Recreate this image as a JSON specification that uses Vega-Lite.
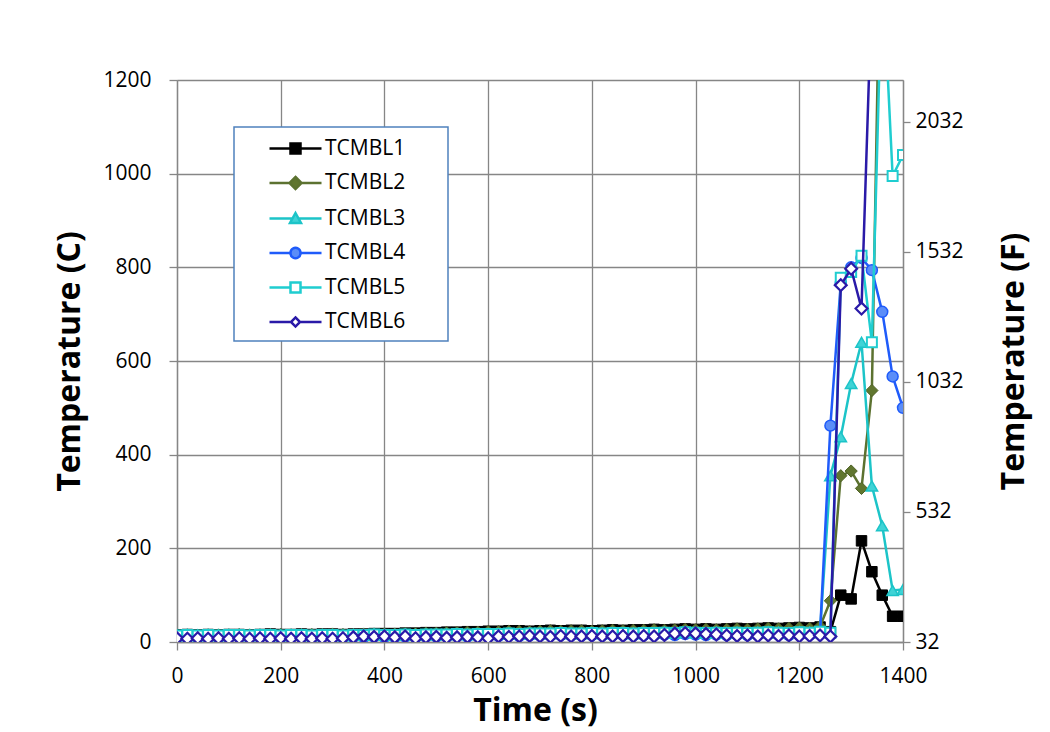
{
  "$schema": "https://vega.github.io/schema/vega-lite/v6.json",
  "width": 726,
  "height": 562,
  "autosize": {"type": "none"},
  "padding": {"left": 177, "top": 80, "right": 147, "bottom": 90},
  "background": "white",
  "data": {"values": [
    {"t":0,"TCMBL1":15,"TCMBL2":14,"TCMBL3":15,"TCMBL4":10,"TCMBL5":14,"TCMBL6":8},
    {"t":20,"TCMBL1":16,"TCMBL2":15,"TCMBL3":16,"TCMBL4":11,"TCMBL5":15,"TCMBL6":7},
    {"t":40,"TCMBL1":15,"TCMBL2":14,"TCMBL3":15,"TCMBL4":10,"TCMBL5":14,"TCMBL6":8},
    {"t":60,"TCMBL1":16,"TCMBL2":15,"TCMBL3":16,"TCMBL4":11,"TCMBL5":15,"TCMBL6":7},
    {"t":80,"TCMBL1":15,"TCMBL2":15,"TCMBL3":15,"TCMBL4":10,"TCMBL5":14,"TCMBL6":8},
    {"t":100,"TCMBL1":16,"TCMBL2":15,"TCMBL3":16,"TCMBL4":11,"TCMBL5":15,"TCMBL6":7},
    {"t":120,"TCMBL1":16,"TCMBL2":16,"TCMBL3":16,"TCMBL4":11,"TCMBL5":15,"TCMBL6":8},
    {"t":140,"TCMBL1":15,"TCMBL2":15,"TCMBL3":15,"TCMBL4":10,"TCMBL5":14,"TCMBL6":7},
    {"t":160,"TCMBL1":16,"TCMBL2":15,"TCMBL3":16,"TCMBL4":11,"TCMBL5":15,"TCMBL6":8},
    {"t":180,"TCMBL1":17,"TCMBL2":16,"TCMBL3":16,"TCMBL4":11,"TCMBL5":15,"TCMBL6":7},
    {"t":200,"TCMBL1":16,"TCMBL2":16,"TCMBL3":15,"TCMBL4":10,"TCMBL5":14,"TCMBL6":8},
    {"t":220,"TCMBL1":16,"TCMBL2":15,"TCMBL3":16,"TCMBL4":11,"TCMBL5":15,"TCMBL6":7},
    {"t":240,"TCMBL1":17,"TCMBL2":16,"TCMBL3":16,"TCMBL4":11,"TCMBL5":15,"TCMBL6":8},
    {"t":260,"TCMBL1":16,"TCMBL2":16,"TCMBL3":15,"TCMBL4":10,"TCMBL5":14,"TCMBL6":7},
    {"t":280,"TCMBL1":17,"TCMBL2":16,"TCMBL3":16,"TCMBL4":11,"TCMBL5":15,"TCMBL6":8},
    {"t":300,"TCMBL1":17,"TCMBL2":17,"TCMBL3":16,"TCMBL4":11,"TCMBL5":15,"TCMBL6":7},
    {"t":320,"TCMBL1":16,"TCMBL2":16,"TCMBL3":15,"TCMBL4":10,"TCMBL5":14,"TCMBL6":8},
    {"t":340,"TCMBL1":17,"TCMBL2":16,"TCMBL3":16,"TCMBL4":11,"TCMBL5":15,"TCMBL6":10},
    {"t":360,"TCMBL1":17,"TCMBL2":17,"TCMBL3":16,"TCMBL4":11,"TCMBL5":15,"TCMBL6":12},
    {"t":380,"TCMBL1":18,"TCMBL2":17,"TCMBL3":17,"TCMBL4":12,"TCMBL5":16,"TCMBL6":11},
    {"t":400,"TCMBL1":18,"TCMBL2":17,"TCMBL3":16,"TCMBL4":11,"TCMBL5":15,"TCMBL6":12},
    {"t":420,"TCMBL1":18,"TCMBL2":17,"TCMBL3":16,"TCMBL4":11,"TCMBL5":15,"TCMBL6":10},
    {"t":440,"TCMBL1":19,"TCMBL2":18,"TCMBL3":17,"TCMBL4":12,"TCMBL5":16,"TCMBL6":12},
    {"t":460,"TCMBL1":19,"TCMBL2":18,"TCMBL3":16,"TCMBL4":11,"TCMBL5":15,"TCMBL6":8},
    {"t":480,"TCMBL1":20,"TCMBL2":19,"TCMBL3":17,"TCMBL4":12,"TCMBL5":16,"TCMBL6":10},
    {"t":500,"TCMBL1":20,"TCMBL2":19,"TCMBL3":17,"TCMBL4":12,"TCMBL5":16,"TCMBL6":11},
    {"t":520,"TCMBL1":21,"TCMBL2":20,"TCMBL3":17,"TCMBL4":12,"TCMBL5":16,"TCMBL6":9},
    {"t":540,"TCMBL1":21,"TCMBL2":20,"TCMBL3":18,"TCMBL4":13,"TCMBL5":17,"TCMBL6":10},
    {"t":560,"TCMBL1":22,"TCMBL2":21,"TCMBL3":17,"TCMBL4":12,"TCMBL5":16,"TCMBL6":11},
    {"t":580,"TCMBL1":22,"TCMBL2":21,"TCMBL3":18,"TCMBL4":13,"TCMBL5":17,"TCMBL6":10},
    {"t":600,"TCMBL1":23,"TCMBL2":22,"TCMBL3":18,"TCMBL4":13,"TCMBL5":17,"TCMBL6":8},
    {"t":620,"TCMBL1":23,"TCMBL2":22,"TCMBL3":18,"TCMBL4":13,"TCMBL5":17,"TCMBL6":12},
    {"t":640,"TCMBL1":24,"TCMBL2":23,"TCMBL3":19,"TCMBL4":14,"TCMBL5":18,"TCMBL6":11},
    {"t":660,"TCMBL1":24,"TCMBL2":23,"TCMBL3":18,"TCMBL4":13,"TCMBL5":17,"TCMBL6":12},
    {"t":680,"TCMBL1":23,"TCMBL2":22,"TCMBL3":19,"TCMBL4":14,"TCMBL5":18,"TCMBL6":13},
    {"t":700,"TCMBL1":24,"TCMBL2":23,"TCMBL3":19,"TCMBL4":14,"TCMBL5":18,"TCMBL6":12},
    {"t":720,"TCMBL1":25,"TCMBL2":24,"TCMBL3":19,"TCMBL4":14,"TCMBL5":18,"TCMBL6":11},
    {"t":740,"TCMBL1":24,"TCMBL2":23,"TCMBL3":20,"TCMBL4":15,"TCMBL5":19,"TCMBL6":13},
    {"t":760,"TCMBL1":25,"TCMBL2":24,"TCMBL3":19,"TCMBL4":14,"TCMBL5":18,"TCMBL6":12},
    {"t":780,"TCMBL1":25,"TCMBL2":24,"TCMBL3":19,"TCMBL4":14,"TCMBL5":18,"TCMBL6":12},
    {"t":800,"TCMBL1":24,"TCMBL2":23,"TCMBL3":20,"TCMBL4":15,"TCMBL5":19,"TCMBL6":13},
    {"t":820,"TCMBL1":25,"TCMBL2":24,"TCMBL3":19,"TCMBL4":14,"TCMBL5":18,"TCMBL6":12},
    {"t":840,"TCMBL1":26,"TCMBL2":25,"TCMBL3":20,"TCMBL4":15,"TCMBL5":19,"TCMBL6":12},
    {"t":860,"TCMBL1":25,"TCMBL2":24,"TCMBL3":20,"TCMBL4":15,"TCMBL5":19,"TCMBL6":13},
    {"t":880,"TCMBL1":26,"TCMBL2":25,"TCMBL3":19,"TCMBL4":14,"TCMBL5":18,"TCMBL6":12},
    {"t":900,"TCMBL1":26,"TCMBL2":25,"TCMBL3":20,"TCMBL4":15,"TCMBL5":19,"TCMBL6":13},
    {"t":920,"TCMBL1":27,"TCMBL2":26,"TCMBL3":20,"TCMBL4":15,"TCMBL5":19,"TCMBL6":12},
    {"t":940,"TCMBL1":26,"TCMBL2":25,"TCMBL3":21,"TCMBL4":16,"TCMBL5":20,"TCMBL6":15},
    {"t":960,"TCMBL1":27,"TCMBL2":26,"TCMBL3":20,"TCMBL4":15,"TCMBL5":19,"TCMBL6":18},
    {"t":980,"TCMBL1":28,"TCMBL2":27,"TCMBL3":22,"TCMBL4":17,"TCMBL5":21,"TCMBL6":19},
    {"t":1000,"TCMBL1":27,"TCMBL2":26,"TCMBL3":21,"TCMBL4":16,"TCMBL5":20,"TCMBL6":18},
    {"t":1020,"TCMBL1":28,"TCMBL2":27,"TCMBL3":20,"TCMBL4":15,"TCMBL5":19,"TCMBL6":17},
    {"t":1040,"TCMBL1":27,"TCMBL2":26,"TCMBL3":21,"TCMBL4":16,"TCMBL5":20,"TCMBL6":16},
    {"t":1060,"TCMBL1":28,"TCMBL2":27,"TCMBL3":20,"TCMBL4":15,"TCMBL5":19,"TCMBL6":14},
    {"t":1080,"TCMBL1":29,"TCMBL2":28,"TCMBL3":21,"TCMBL4":16,"TCMBL5":20,"TCMBL6":13},
    {"t":1100,"TCMBL1":28,"TCMBL2":27,"TCMBL3":20,"TCMBL4":15,"TCMBL5":19,"TCMBL6":14},
    {"t":1120,"TCMBL1":29,"TCMBL2":28,"TCMBL3":21,"TCMBL4":16,"TCMBL5":20,"TCMBL6":12},
    {"t":1140,"TCMBL1":30,"TCMBL2":29,"TCMBL3":22,"TCMBL4":17,"TCMBL5":21,"TCMBL6":14},
    {"t":1160,"TCMBL1":29,"TCMBL2":28,"TCMBL3":21,"TCMBL4":16,"TCMBL5":20,"TCMBL6":13},
    {"t":1180,"TCMBL1":30,"TCMBL2":29,"TCMBL3":20,"TCMBL4":15,"TCMBL5":19,"TCMBL6":14},
    {"t":1200,"TCMBL1":31,"TCMBL2":30,"TCMBL3":22,"TCMBL4":17,"TCMBL5":21,"TCMBL6":12},
    {"t":1220,"TCMBL1":30,"TCMBL2":29,"TCMBL3":21,"TCMBL4":16,"TCMBL5":20,"TCMBL6":13},
    {"t":1240,"TCMBL1":32,"TCMBL2":33,"TCMBL3":23,"TCMBL4":18,"TCMBL5":22,"TCMBL6":14},
    {"t":1260,"TCMBL1":22,"TCMBL2":88,"TCMBL3":355,"TCMBL4":462,"TCMBL5":20,"TCMBL6":12},
    {"t":1280,"TCMBL1":100,"TCMBL2":355,"TCMBL3":438,"TCMBL4":766,"TCMBL5":778,"TCMBL6":762},
    {"t":1300,"TCMBL1":92,"TCMBL2":365,"TCMBL3":552,"TCMBL4":800,"TCMBL5":790,"TCMBL6":797},
    {"t":1320,"TCMBL1":216,"TCMBL2":328,"TCMBL3":640,"TCMBL4":820,"TCMBL5":825,"TCMBL6":712},
    {"t":1340,"TCMBL1":150,"TCMBL2":537,"TCMBL3":333,"TCMBL4":794,"TCMBL5":640,"TCMBL6":1400},
    {"t":1360,"TCMBL1":100,"TCMBL2":1760,"TCMBL3":248,"TCMBL4":705,"TCMBL5":1450,"TCMBL6":1600},
    {"t":1380,"TCMBL1":55,"TCMBL2":1900,"TCMBL3":110,"TCMBL4":567,"TCMBL5":995,"TCMBL6":1700},
    {"t":1400,"TCMBL1":55,"TCMBL2":1950,"TCMBL3":112,"TCMBL4":500,"TCMBL5":1040,"TCMBL6":1800}
  ]},
  "transform": [{"fold": ["TCMBL1","TCMBL2","TCMBL3","TCMBL4","TCMBL5","TCMBL6"], "as": ["series","temp"]}],
  "layer": [
    {
      "encoding": {
        "x": {"field": "t", "type": "quantitative", "scale": {"domain": [0, 1400], "nice": false, "zero": false}, "title": "Time (s)",
          "axis": {"values": [0,200,400,600,800,1000,1200,1400], "format": "d", "grid": true, "labelFlush": false, "labelOverlap": false, "tickSize": 8, "labelPadding": 15, "titlePadding": 9, "titleX": 358}},
        "y": {"field": "temp", "type": "quantitative", "scale": {"domain": [0, 1200], "nice": false}, "title": "Temperature (C)",
          "axis": {"values": [0,200,400,600,800,1000,1200], "format": "d", "grid": true, "labelFlush": false, "labelOverlap": false, "tickSize": 8, "labelPadding": 18, "titlePadding": 16}}
      },
      "layer": [
        {"transform": [{"filter": "datum.series === 'TCMBL1'"}],
         "mark": {"type": "line", "clip": true, "color": "#000000", "strokeWidth": 2.5,
           "point": {"shape": "square", "filled": true, "fill": "#000000", "stroke": "#000000", "strokeWidth": 1, "size": 110, "opacity": 1, "clip": true}}},
        {"transform": [{"filter": "datum.series === 'TCMBL2'"}],
         "mark": {"type": "line", "clip": true, "color": "#5C7230", "strokeWidth": 2.5,
           "point": {"shape": "diamond", "filled": true, "fill": "#60762F", "stroke": "#4F6226", "strokeWidth": 1, "size": 150, "opacity": 1, "clip": true}}},
        {"transform": [{"filter": "datum.series === 'TCMBL3'"}],
         "mark": {"type": "line", "clip": true, "color": "#1CC4C8", "strokeWidth": 2.5,
           "point": {"shape": "triangle-up", "filled": true, "fill": "#3FD3D6", "stroke": "#1CC4C8", "strokeWidth": 1.5, "size": 130, "opacity": 1, "clip": true}}},
        {"transform": [{"filter": "datum.series === 'TCMBL4'"}],
         "mark": {"type": "line", "clip": true, "color": "#1F5BFA", "strokeWidth": 2.5,
           "point": {"shape": "circle", "filled": true, "fill": "#5B8DF8", "stroke": "#1F5BFA", "strokeWidth": 1.5, "size": 120, "opacity": 1, "clip": true}}},
        {"transform": [{"filter": "datum.series === 'TCMBL5'"}],
         "mark": {"type": "line", "clip": true, "color": "#1FCDD0", "strokeWidth": 2.5,
           "point": {"shape": "square", "filled": true, "fill": "#FFFFFF", "stroke": "#1FCDD0", "strokeWidth": 2, "size": 100, "opacity": 1, "clip": true}}},
        {"transform": [{"filter": "datum.series === 'TCMBL6'"}],
         "mark": {"type": "line", "clip": true, "color": "#2A1AA8", "strokeWidth": 2.5,
           "point": {"shape": "diamond", "filled": true, "fill": "#FFFFFF", "stroke": "#2A1AA8", "strokeWidth": 2.2, "size": 140, "opacity": 1, "clip": true}}},
        {"mark": {"type": "point", "filled": true, "opacity": 0, "strokeWidth": 2.5},
         "encoding": {
           "shape": {"field": "series", "type": "nominal",
             "scale": {"domain": ["TCMBL1","TCMBL2","TCMBL3","TCMBL4","TCMBL5","TCMBL6"],
               "range": [
                 "M1.273,0H3.182M4.091,0H6M3.182,-0.455H4.091V0.455H3.182ZM16.2,0",
                 "M1.273,0H3.091M4.182,0H6M3.636,-0.545L4.182,0L3.636,0.545L3.091,0ZM16.2,0",
                 "M1.273,0H3.36M3.91,0H6M3.636,-0.5L4.136,0.41H3.136ZM16.2,0",
                 "M1.273,0H3.182M4.091,0H6M3.182,0A0.455,0.455 0 1,0 4.091,0A0.455,0.455 0 1,0 3.182,0ZM16.2,0",
                 "M1.273,0H3.182M4.091,0H6M3.182,-0.455H4.091V0.455H3.182ZM16.2,0",
                 "M1.273,0H3.227M4.045,0H6M3.636,-0.41L4.045,0L3.636,0.41L3.227,0ZM16.2,0"
               ]},
             "legend": {"orient": "none", "legendX": 57, "legendY": 47, "title": null}},
           "fill": {"field": "series", "type": "nominal",
             "scale": {"domain": ["TCMBL1","TCMBL2","TCMBL3","TCMBL4","TCMBL5","TCMBL6"],
               "range": ["#000000","#60762F","#3FD3D6","#5B8DF8","#FFFFFF","#FFFFFF"]}},
           "stroke": {"field": "series", "type": "nominal",
             "scale": {"domain": ["TCMBL1","TCMBL2","TCMBL3","TCMBL4","TCMBL5","TCMBL6"],
               "range": ["#000000","#5C7230","#1CC4C8","#1F5BFA","#1FCDD0","#2A1AA8"]}}
         }}
      ]
    },
    {
      "mark": {"type": "point", "opacity": 0},
      "encoding": {
        "y": {"field": "temp", "type": "quantitative", "scale": {"domain": [0, 1200], "nice": false}, "title": "Temperature (F)",
          "axis": {"orient": "right", "values": [0, 277.7778, 555.5556, 833.3333, 1111.1111], "labelExpr": "format(datum.value * 1.8 + 32, 'd')",
            "grid": false, "labelFlush": false, "labelOverlap": false, "tickSize": 7, "labelPadding": 5, "titlePadding": 35, "titleAngle": -90, "titleBaseline": "top"}}
      }
    }
  ],
  "resolve": {"scale": {"y": "independent"}},
  "config": {
    "font": "Open Sans",
    "view": {"stroke": null},
    "axis": {
      "domainColor": "#868686", "domainWidth": 1.3,
      "tickColor": "#868686", "tickWidth": 1.3,
      "gridColor": "#868686", "gridWidth": 1.3, "gridOpacity": 1,
      "labelFont": "Open Sans", "labelFontSize": 21, "labelColor": "#000000",
      "titleFont": "Open Sans", "titleFontSize": 32, "titleFontWeight": "bold", "titleColor": "#000000"
    },
    "legend": {
      "padding": 9,
      "strokeColor": "#4F81BD",
      "fillColor": "#FFFFFF",
      "strokeWidth": 1.5,
      "symbolSize": 484,
      "symbolStrokeWidth": 2.5,
      "symbolOpacity": 1,
      "labelOffset": 57,
      "labelFont": "Open Sans",
      "labelFontSize": 21,
      "labelColor": "#000000",
      "labelLimit": 300,
      "rowPadding": 11.5
    }
  }
}
